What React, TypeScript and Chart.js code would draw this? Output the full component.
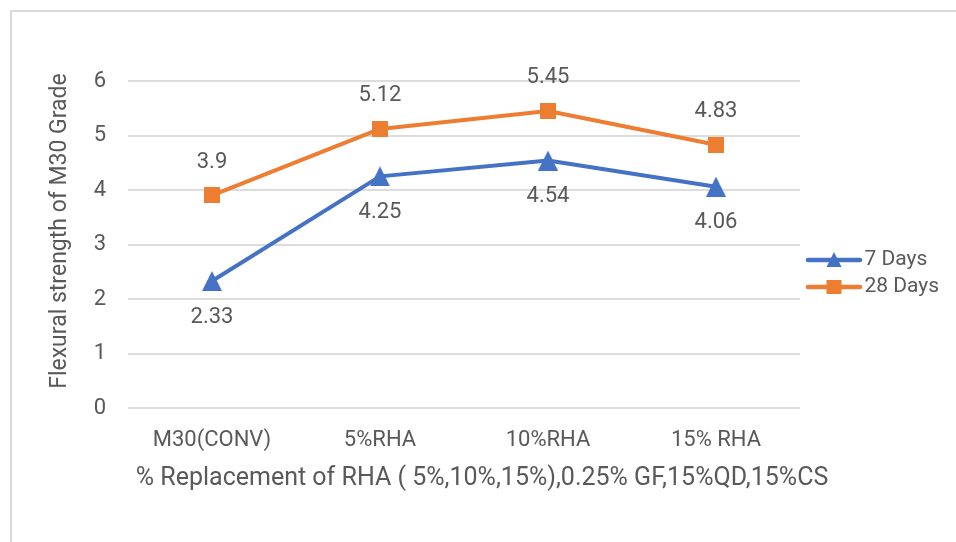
import React, { useEffect, useRef } from "react";
import { Chart, registerables } from "chart.js";

Chart.register(...registerables);

const categories = ["M30(CONV)", "5%RHA", "10%RHA", "15% RHA"];
const days7 = [2.33, 4.25, 4.54, 4.06];
const days28 = [3.9, 5.12, 5.45, 4.83];
const seriesNames = ["7 Days", "28 Days"];
const yMin = 0;
const yMax = 6;
const yStep = 1;
const yTitle = "Flexural strength of M30 Grade";
const xTitle = "% Replacement of RHA ( 5%,10%,15%),0.25% GF,15%QD,15%CS";

const BLUE = "#4472C4";
const ORANGE = "#ED7D31";
const TEXT = "#595959";
const GRID = "#DCDCDC";
const FONT = "Roboto";

const W = 956;
const H = 542;

function makeMarker(kind: string, color: string, w: number, h: number) {
  const c = document.createElement("canvas");
  c.width = w;
  c.height = h;
  const g = c.getContext("2d")!;
  g.fillStyle = color;
  if (kind === "triangle") {
    g.beginPath();
    g.moveTo(w / 2, 0);
    g.lineTo(w, h);
    g.lineTo(0, h);
    g.closePath();
    g.fill();
  } else {
    g.fillRect(0, 0, w, h);
  }
  return c;
}

function makeLegendIcon(kind: string, color: string) {
  const iw = 66;
  const ih = 22;
  const c = document.createElement("canvas");
  c.width = iw;
  c.height = ih;
  const g = c.getContext("2d")!;
  g.strokeStyle = color;
  g.lineWidth = 4.5;
  g.lineCap = "round";
  g.beginPath();
  g.moveTo(11, ih / 2);
  g.lineTo(63, ih / 2);
  g.stroke();
  g.fillStyle = color;
  if (kind === "triangle") {
    g.beginPath();
    g.moveTo(37, ih / 2 - 8);
    g.lineTo(44.5, ih / 2 + 7);
    g.lineTo(29.5, ih / 2 + 7);
    g.closePath();
    g.fill();
  } else {
    g.fillRect(29.5, ih / 2 - 7, 15, 14);
  }
  return c;
}

export default function App() {
  const ref = useRef<HTMLCanvasElement | null>(null);

  useEffect(() => {
    const canvas = ref.current;
    if (!canvas) return;

    const legendFontSize = 21;
    const legendPad = 6;
    const boxW = 48;
    const mctx = document.createElement("canvas").getContext("2d")!;
    mctx.font = `${legendFontSize}px ${FONT}`;
    const maxText = Math.max(...seriesNames.map((s) => mctx.measureText(s).width));
    const legendWidth = legendPad + boxW + legendFontSize / 2 + maxText + 10;
    const plotRight = 800;
    const padRight = W - plotRight - legendWidth;

    const padTop = 45;
    const padBottom = 40;
    const padLeft = 20;
    const plotTop = 81;
    const plotBottom = 408;
    const plotLeft = 128;

    const triangle = makeMarker("triangle", BLUE, 20, 20);
    const square = makeMarker("square", ORANGE, 16, 16);
    const icons = [makeLegendIcon("triangle", BLUE), makeLegendIcon("square", ORANGE)];

    const labelOffsets = [36, -33];

    const extrasPlugin = {
      id: "extras",
      beforeDraw(chart: any) {
        const ctx = chart.ctx;
        ctx.save();
        ctx.fillStyle = "#ffffff";
        ctx.fillRect(0, 0, chart.width, chart.height);
        ctx.strokeStyle = "#D9D9D9";
        ctx.lineWidth = 2;
        ctx.strokeRect(11, 11, 2000, 2000);
        ctx.restore();
      },
      afterDraw(chart: any) {
        const ctx = chart.ctx;
        ctx.save();
        ctx.fillStyle = TEXT;
        ctx.textAlign = "center";
        ctx.textBaseline = "middle";
        ctx.font = `25px ${FONT}`;
        ctx.fillText(xTitle, 482, 479);
        ctx.font = `23px ${FONT}`;
        ctx.translate(60, 231);
        ctx.rotate(-Math.PI / 2);
        ctx.fillText(yTitle, 0, 0);
        ctx.restore();

        // data labels
        ctx.save();
        ctx.fillStyle = TEXT;
        ctx.font = `22px ${FONT}`;
        ctx.textAlign = "center";
        ctx.textBaseline = "middle";
        chart.data.datasets.forEach((ds: any, di: number) => {
          const meta = chart.getDatasetMeta(di);
          meta.data.forEach((pt: any, i: number) => {
            ctx.fillText(String(ds.data[i]), pt.x, pt.y + labelOffsets[di]);
          });
        });
        ctx.restore();
      },
    };

    const chart = new Chart(canvas, {
      type: "line",
      data: {
        labels: categories,
        datasets: [
          {
            label: seriesNames[0],
            data: days7,
            borderColor: BLUE,
            backgroundColor: BLUE,
            borderWidth: 4,
            pointStyle: triangle as any,
            pointRadius: 10,
            borderCapStyle: "round",
            borderJoinStyle: "round",
            tension: 0,
          },
          {
            label: seriesNames[1],
            data: days28,
            borderColor: ORANGE,
            backgroundColor: ORANGE,
            borderWidth: 4,
            pointStyle: square as any,
            pointRadius: 8,
            borderCapStyle: "round",
            borderJoinStyle: "round",
            tension: 0,
          },
        ],
      },
      options: {
        responsive: false,
        animation: false,
        layout: {
          padding: { top: padTop, bottom: padBottom, left: padLeft, right: padRight },
        },
        scales: {
          x: {
            offset: true,
            grid: { display: false, drawTicks: false },
            border: { display: false },
            ticks: {
              color: TEXT,
              font: { family: FONT, size: 22 },
              padding: 19,
              maxRotation: 0,
              autoSkip: false,
            },
            afterFit: (scale: any) => {
              scale.height = H - padBottom - plotBottom;
            },
          },
          y: {
            min: yMin,
            max: yMax,
            grid: { color: GRID, lineWidth: 2, drawTicks: false },
            border: { display: false },
            ticks: {
              stepSize: yStep,
              color: TEXT,
              font: { family: FONT, size: 22 },
              padding: 22,
            },
            afterFit: (scale: any) => {
              scale.width = plotLeft - padLeft;
            },
          },
        },
        plugins: {
          title: {
            display: true,
            text: "",
            padding: 0,
            font: { size: 30, lineHeight: (plotTop - padTop) / 30 },
          },
          legend: {
            position: "right",
            align: "center",
            labels: {
              usePointStyle: true,
              pointStyleWidth: boxW,
              padding: legendPad,
              color: TEXT,
              font: { family: FONT, size: legendFontSize },
              generateLabels: (ch: any) =>
                ch.data.datasets.map((ds: any, i: number) => ({
                  text: ds.label,
                  fillStyle: ds.borderColor,
                  strokeStyle: ds.borderColor,
                  lineWidth: 0,
                  pointStyle: icons[i],
                  fontColor: TEXT,
                  hidden: false,
                  datasetIndex: i,
                })),
            },
          },
          tooltip: { enabled: false },
        },
      },
      plugins: [extrasPlugin],
    });

    return () => chart.destroy();
  }, []);

  return (
    <div style={{ position: "fixed", left: 0, top: 0, width: W, height: H, background: "#fff" }}>
      <canvas ref={ref} width={W} height={H} style={{ display: "block" }} />
    </div>
  );
}
